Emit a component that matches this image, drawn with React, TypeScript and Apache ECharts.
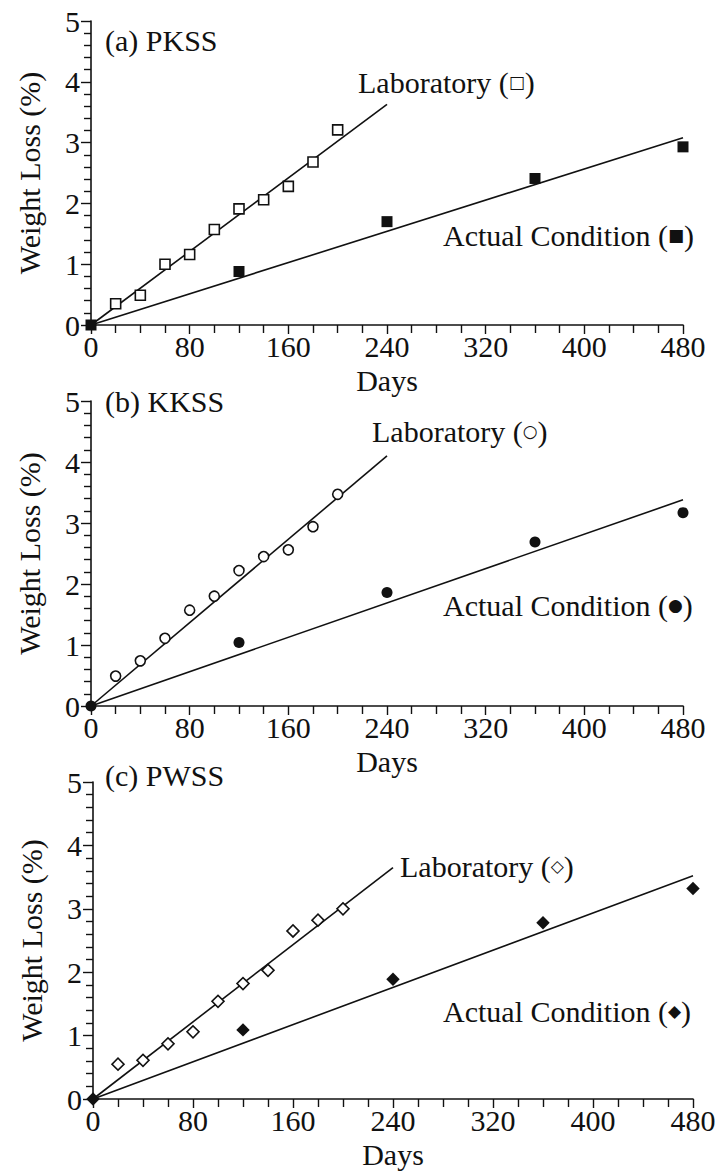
import React, { useEffect, useRef } from "react";
import * as echarts from "echarts";

// ---- data ----
const daysLab = [20, 40, 60, 80, 100, 120, 140, 160, 180, 200];
const daysActual = [0, 120, 240, 360, 480];
const labFitDays = [0, 240];
const actualFitDays = [0, 480];
const xTicks = [0, 80, 160, 240, 320, 400, 480];

const pkssLab = [0.35, 0.49, 1.0, 1.16, 1.57, 1.91, 2.06, 2.28, 2.68, 3.21];
const pkssActual = [0, 0.88, 1.7, 2.41, 2.93];
const pkssLabFit = [0, 3.63];
const pkssActualFit = [0, 3.08];

const kkssLab = [0.49, 0.74, 1.11, 1.57, 1.8, 2.22, 2.45, 2.56, 2.94, 3.47];
const kkssActual = [0, 1.04, 1.86, 2.69, 3.17];
const kkssLabFit = [0, 4.1];
const kkssActualFit = [0, 3.38];

const pwssLab = [0.55, 0.61, 0.87, 1.06, 1.54, 1.82, 2.03, 2.65, 2.82, 3.0];
const pwssActual = [0, 1.09, 1.89, 2.78, 3.32];
const pwssLabFit = [0, 3.65];
const pwssActualFit = [0, 3.52];

const panelTitles = ["(a) PKSS", "(b) KKSS", "(c) PWSS"];
const labSymbols = ["\u25A1", "\u25CB", "\u25C7"];
const actualSymbols = ["\u25A0", "\u25CF", "\u25C6"];

const FONT = "'Liberation Serif', 'Times New Roman', serif";
const INK = "#111";

const zip = (xs: number[], ys: number[]) => xs.map((x, i) => [x, ys[i]]);

export default function App() {
  const ref = useRef<HTMLDivElement>(null);

  useEffect(() => {
    document.body.style.margin = "0";
    if (!ref.current) return;
    const chart = echarts.init(ref.current, null, { renderer: "svg" });

    const grids = [
      { left: 91, top: 21, width: 592, height: 304 },
      { left: 91, top: 401, width: 592, height: 305 },
      { left: 93, top: 782, width: 600, height: 317 },
    ];

    const panels = [
      { lab: pkssLab, act: pkssActual, labFit: pkssLabFit, actFit: pkssActualFit, sym: "rect", size: 10, rot: 0 },
      { lab: kkssLab, act: kkssActual, labFit: kkssLabFit, actFit: kkssActualFit, sym: "circle", size: 10, rot: 0 },
      { lab: pwssLab, act: pwssActual, labFit: pwssLabFit, actFit: pwssActualFit, sym: "rect", size: 8.5, rot: 45 },
    ];

    const xAxis = grids.map((_, i) => ({
      type: "value",
      gridIndex: i,
      min: xTicks[0],
      max: xTicks[xTicks.length - 1],
      interval: xTicks[1] - xTicks[0],
      name: "Days",
      nameLocation: "middle",
      nameGap: 40,
      nameTextStyle: { fontFamily: FONT, fontSize: 30, color: INK },
      axisLine: { show: true, onZero: false, lineStyle: { color: INK, width: 1.6 } },
      axisTick: { show: true, inside: false, length: 9, lineStyle: { color: INK, width: 1.4 } },
      minorTick: { show: true, splitNumber: 4, length: 8, lineStyle: { color: INK, width: 1.4 } },
      splitLine: { show: false },
      minorSplitLine: { show: false },
      axisLabel: { fontFamily: FONT, fontSize: 30, color: INK, margin: 6 },
    }));

    const yAxis = grids.map((_, i) => ({
      type: "value",
      gridIndex: i,
      min: 0,
      max: 5,
      interval: 1,
      name: "Weight Loss (%)",
      nameLocation: "middle",
      nameGap: 47,
      nameTextStyle: { fontFamily: FONT, fontSize: 30, color: INK },
      axisLine: { show: true, onZero: false, lineStyle: { color: INK, width: 1.6 } },
      axisTick: { show: true, inside: false, length: 10, lineStyle: { color: INK, width: 1.4 } },
      minorTick: { show: true, splitNumber: 5, length: 7, lineStyle: { color: INK, width: 1.4 } },
      splitLine: { show: false },
      minorSplitLine: { show: false },
      axisLabel: { fontFamily: FONT, fontSize: 30, color: INK, margin: 11 },
    }));

    const series: any[] = [];
    panels.forEach((p, i) => {
      series.push({
        type: "line",
        xAxisIndex: i,
        yAxisIndex: i,
        data: zip(labFitDays, p.labFit),
        showSymbol: false,
        symbol: "none",
        lineStyle: { color: INK, width: 1.6 },
        z: 2,
      });
      series.push({
        type: "line",
        xAxisIndex: i,
        yAxisIndex: i,
        data: zip(actualFitDays, p.actFit),
        showSymbol: false,
        symbol: "none",
        lineStyle: { color: INK, width: 1.6 },
        z: 2,
      });
      series.push({
        type: "scatter",
        xAxisIndex: i,
        yAxisIndex: i,
        data: zip(daysLab, p.lab),
        symbol: p.sym,
        symbolSize: p.size,
        symbolRotate: p.rot,
        itemStyle: { color: "#fff", borderColor: INK, borderWidth: 1.6, opacity: 1 },
        z: 3,
      });
      series.push({
        type: "scatter",
        xAxisIndex: i,
        yAxisIndex: i,
        data: zip(daysActual, p.act),
        symbol: p.sym,
        symbolSize: p.size + 1,
        symbolRotate: p.rot,
        itemStyle: { color: INK, borderColor: INK, borderWidth: 0, opacity: 1 },
        z: 4,
      });
    });

    const textStyleBase = { fontFamily: FONT, fontSize: 30, fill: INK, verticalAlign: "middle", align: "left" };
    const richText = (label: string, sym: string) => ({
      text: `{t|${label} (}{s|${sym}}{t|)}`,
      rich: {
        t: { fontFamily: FONT, fontSize: 30, color: INK },
        s: { fontFamily: "'DejaVu Sans', sans-serif", fontSize: 17, color: INK, fontWeight: "bold" },
      },
    });

    const titlePos = [
      { x: 105, y: 40 },
      { x: 105, y: 401 },
      { x: 105, y: 775 },
    ];
    const labPos = [
      { x: 358, y: 82 },
      { x: 372, y: 431 },
      { x: 400, y: 866 },
    ];
    const actPos = [
      { x: 443, y: 235 },
      { x: 443, y: 605 },
      { x: 443, y: 1011 },
    ];

    const graphic: any[] = [];
    for (let i = 0; i < 3; i++) {
      graphic.push({
        type: "text",
        x: titlePos[i].x,
        y: titlePos[i].y,
        style: { ...textStyleBase, text: panelTitles[i] },
      });
      graphic.push({
        type: "text",
        x: labPos[i].x,
        y: labPos[i].y,
        style: { ...textStyleBase, ...richText("Laboratory", labSymbols[i]) },
      });
      graphic.push({
        type: "text",
        x: actPos[i].x,
        y: actPos[i].y,
        style: { ...textStyleBase, ...richText("Actual Condition", actualSymbols[i]) },
      });
    }

    chart.setOption({
      animation: false,
      backgroundColor: "#fff",
      grid: grids.map((g) => ({ ...g, containLabel: false, outerBoundsMode: "none" })),
      xAxis,
      yAxis,
      series,
      graphic,
    } as any);

    return () => chart.dispose();
  }, []);

  return <div ref={ref} style={{ width: 723, height: 1171 }} />;
}
